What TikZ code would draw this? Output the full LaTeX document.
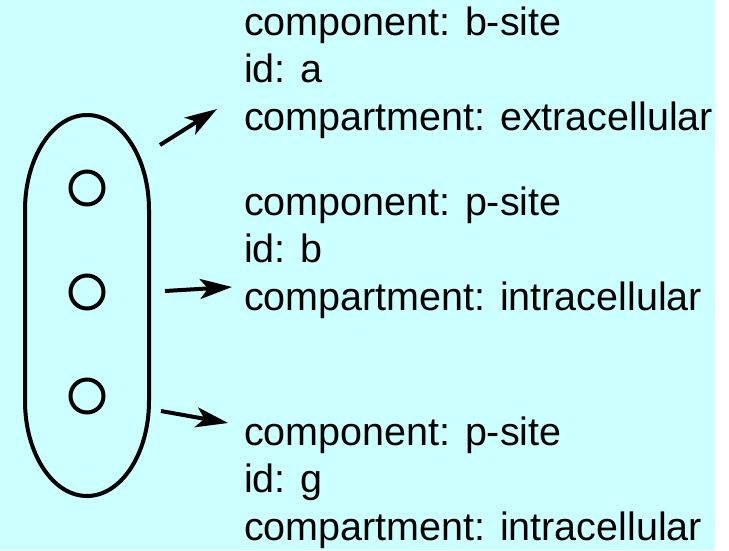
\documentclass[tikz,border=0pt]{standalone}
\usepackage{fontspec}
\setmainfont{Liberation Sans}
\usetikzlibrary{arrows.meta, positioning}
\definecolor{mycyan}{RGB}{204,255,255}
\tikzstyle{site}=[draw, circle, minimum size=33pt, inner sep=0pt, line width=4pt]
\tikzstyle{attrs}=[anchor=base west, inner sep=0pt, align=left,
font=\fontsize{39.5}{47.3}\selectfont]

\begin{document}
\begin{tikzpicture}[x=1pt, y=-1pt, line width=4pt,
>={Stealth[length=32pt, width=20pt, inset=8pt]}]
\useasboundingbox (0, 0) rectangle (729, 550);
\fill [mycyan] (0, 0) rectangle (715, 550);
% the cell
\draw (25, 210) -- (25, 401) arc [start angle=180, end angle=0, x radius=62, y radius=95]
-- (149, 210) arc [start angle=0, end angle=-180, x radius=62, y radius=95] -- cycle;
\draw (87, 188) node [site] (s1) {};
\draw (87, 292) node [site] (s2) {};
\draw (87, 396) node [site] (s3) {};
\draw (242, 130) node [attrs] (t1) {component: b-site\\id: a\\compartment: extracellular};
\draw (242, 310) node [attrs] (t2) {component: p-site\\id: b\\compartment: intracellular};
\draw (242, 540) node [attrs] (t3) {component: p-site\\id: g\\compartment: intracellular};
\coordinate (a1) at (160, 145);
\coordinate (b1) at (217, 109);
\coordinate (a2) at (165, 291);
\coordinate (b2) at (232, 287);
\coordinate (a3) at (161, 411);
\coordinate (b3) at (228, 423);
\draw [->] (a1) -- (b1);
\draw [->] (a2) -- (b2);
\draw [->] (a3) -- (b3);
\end{tikzpicture}
\end{document}
